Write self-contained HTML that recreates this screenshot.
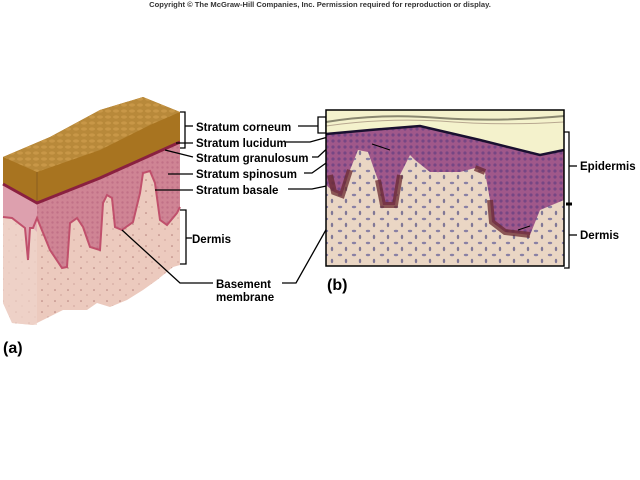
<!DOCTYPE html>
<html><head><meta charset="utf-8"><style>
html,body{margin:0;padding:0;background:#fff;width:640px;height:480px;overflow:hidden}
svg{display:block}
text{font-family:"Liberation Sans",Arial,sans-serif;font-weight:bold;fill:#000}
</style></head><body>
<svg width="640" height="480" viewBox="0 0 640 480" xmlns="http://www.w3.org/2000/svg">
<defs>
<pattern id="cells" width="5" height="5" patternUnits="userSpaceOnUse"><circle cx="2.5" cy="2.5" r="1.2" fill="#b05a78" opacity="0.45"/></pattern>
<pattern id="derm" width="13" height="11" patternUnits="userSpaceOnUse"><circle cx="3" cy="4" r="0.8" fill="#8a4a4a" opacity="0.6"/><circle cx="9" cy="9" r="0.6" fill="#8a4a4a" opacity="0.5"/></pattern>
<pattern id="brown" width="8" height="6" patternUnits="userSpaceOnUse"><ellipse cx="4" cy="3" rx="3" ry="1.6" fill="#d2a050" opacity="0.6"/></pattern>
<pattern id="nuc" width="14" height="12" patternUnits="userSpaceOnUse"><ellipse cx="4" cy="3" rx="2.2" ry="1.2" fill="#3a3a8a"/><ellipse cx="10" cy="9" rx="1.2" ry="2.2" fill="#2a2a70"/></pattern>
<pattern id="epc" width="6" height="6" patternUnits="userSpaceOnUse"><circle cx="3" cy="3" r="1.6" fill="#5a3a80" opacity="0.6"/></pattern>
</defs>

<text x="320" y="7" font-size="7.6" text-anchor="middle" style="fill:#333">Copyright © The McGraw-Hill Companies, Inc. Permission required for reproduction or display.</text>

<!-- Left block: dermis base -->
<path d="M3,157 L37,170 L180,112 L180,265 L173,267 L157,280 L143,290 L127,300 L110,307 L97,303 L87,310 L63,310 L33,325 L12,323 L3,303 Z" fill="#eccabe"/>
<path d="M3,157 L37,170 L180,112 L180,265 L173,267 L157,280 L143,290 L127,300 L110,307 L97,303 L87,310 L63,310 L33,325 L12,323 L3,303 Z" fill="url(#derm)"/>
<path d="M3,184 L37,203 L37,325 L33,325 L12,323 L3,303 Z" fill="#f0d4ca" opacity="0.7"/>
<!-- epidermis -->
<path d="M3,184 L37,203 L100,178 L180,142 L180,207 L177,213 L167,225 L160,220 L155,183 L150,171 L143,173 L140,193 L133,222 L122,230 L115,227 L112,198 L107,195 L103,203 L100,250 L90,247 L83,227 L77,218 L70,223 L67,267 L62,268 L50,250 L37,218 L33,228 L30,228 L28,260 L25,228 L12,218 L3,217 Z" fill="#cf8494"/>
<path d="M37,203 L100,178 L180,142 L180,207 L177,213 L167,225 L160,220 L155,183 L150,171 L143,173 L140,193 L133,222 L122,230 L115,227 L112,198 L107,195 L103,203 L100,250 L90,247 L83,227 L77,218 L70,223 L67,267 L62,268 L50,250 L37,218 Z" fill="url(#cells)"/>
<path d="M3,184 L37,203 L37,232 L33,228 L30,228 L28,260 L25,228 L12,218 L3,217 Z" fill="#e0a8b4" opacity="0.8"/>
<path d="M180,207 L177,213 L167,225 L160,220 L155,183 L150,171 L143,173 L140,193 L133,222 L122,230 L115,227 L112,198 L107,195 L103,203 L100,250 L90,247 L83,227 L77,218 L70,223 L67,267 L62,268 L50,250 L37,218 L33,228 L30,228 L28,260 L25,228 L12,218 L3,217" fill="none" stroke="#c0506c" stroke-width="2"/>
<!-- brown corneum -->
<path d="M3,157 L50,137 L100,110 L143,97 L180,112 L180,142 L100,178 L37,203 L3,184 Z" fill="#a87420"/>
<path d="M3,157 L50,137 L100,110 L143,97 L180,112 L150,125 L100,150 L37,172 Z" fill="#b8893a"/>
<path d="M3,157 L50,137 L100,110 L143,97 L180,112 L150,125 L100,150 L37,172 Z" fill="url(#brown)"/>
<path d="M37,172 L37,203" stroke="#8a5e20" stroke-width="1"/>
<path d="M3,184 L37,203 L100,178 L180,142" fill="none" stroke="#8a2040" stroke-width="3"/>

<!-- Left labels & leaders -->
<g stroke="#000" stroke-width="1.3" fill="none">
<path d="M180,112 H185 V148 H180"/>
<path d="M185,126 H193"/>
<path d="M176,143 H193"/>
<path d="M165,150 L193,157"/>
<path d="M168,174 H193"/>
<path d="M155,190 H193"/>
<path d="M180,210 H186 V264 H180"/>
<path d="M186,238 H192"/>
<path d="M122,230 L180,283 H213"/>
</g>
<g font-size="11.5">
<text x="196" y="131">Stratum corneum</text>
<text x="196" y="147">Stratum lucidum</text>
<text x="196" y="162">Stratum granulosum</text>
<text x="196" y="178">Stratum spinosum</text>
<text x="196" y="194">Stratum basale</text>
<text x="192" y="243">Dermis</text>
<text x="216" y="288">Basement</text>
<text x="216" y="301">membrane</text>
</g>
<text x="3" y="353" font-size="16">(a)</text>

<!-- Right connectors -->
<g stroke="#000" stroke-width="1.3" fill="none">
<path d="M298,126 H318"/>
<path d="M318,117 H326 V133 H318 Z"/>
<path d="M286,142 H310 L328,137"/>
<path d="M312,157 L318,157 L333,143"/>
<path d="M304,173 L312,173 L336,156"/>
<path d="M288,189 L312,189 L336,184"/>
<path d="M282,283 H296 L345,196"/>
</g>

<!-- Micrograph -->
<rect x="326" y="110" width="238" height="156" fill="#ead6c4"/>
<rect x="326" y="110" width="238" height="156" fill="url(#nuc)" opacity="0.55"/>
<path d="M326,110 H564 V150 L540,155 L480,140 L420,128 L370,130 L326,134 Z" fill="#f4f2cc"/>
<path d="M326,122 Q380,113 440,118 Q500,122 564,116" fill="none" stroke="#8a8870" stroke-width="2"/>
<path d="M326,126 Q380,118 440,121 Q500,126 564,122" fill="none" stroke="#b8a890" stroke-width="1"/>
<!-- epidermis -->
<path d="M326,134 L370,130 L420,126 L480,140 L540,155 L564,150 L564,200 L540,210 L530,235 L505,232 L492,222 L490,200 L485,172 L475,168 L460,172 L430,172 L415,160 L410,155 L400,175 L395,205 L383,205 L378,180 L368,152 L358,150 L350,170 L342,195 L334,192 L326,185 Z" fill="#a0588a"/>
<path d="M326,134 L370,130 L420,126 L480,140 L540,155 L564,150 L564,200 L540,210 L530,235 L505,232 L492,222 L490,200 L485,172 L475,168 L460,172 L430,172 L415,160 L410,155 L400,175 L395,205 L383,205 L378,180 L368,152 L358,150 L350,170 L342,195 L334,192 L326,185 Z" fill="url(#epc)"/>
<path d="M326,134 L370,130 L420,126 L480,140 L540,155 L564,150" fill="none" stroke="#1a1030" stroke-width="2.5"/>
<path d="M350,170 L342,195 L334,192 L330,175 M400,175 L395,205 L383,205 L378,180 M530,235 L505,232 L492,222 L490,200 M485,172 L475,168" fill="none" stroke="#6a2a30" stroke-width="6" opacity="0.75"/>
<path d="M372,144 L390,150" stroke="#000" stroke-width="1"/>
<path d="M530,226 L518,230" stroke="#000" stroke-width="1"/>
<rect x="326" y="110" width="238" height="156" fill="none" stroke="#000" stroke-width="1.5"/>

<g stroke="#000" stroke-width="1.3" fill="none">
<path d="M564,132 H569 V268 H564"/>
<path d="M569,166 H577"/>
<path d="M569,235 H577"/>
<path d="M566,204 H572" stroke-width="3"/>
</g>
<text x="580" y="170" font-size="11.5">Epidermis</text>
<text x="580" y="239" font-size="11.5">Dermis</text>
<text x="327" y="290" font-size="16">(b)</text>
</svg>
</body></html>
